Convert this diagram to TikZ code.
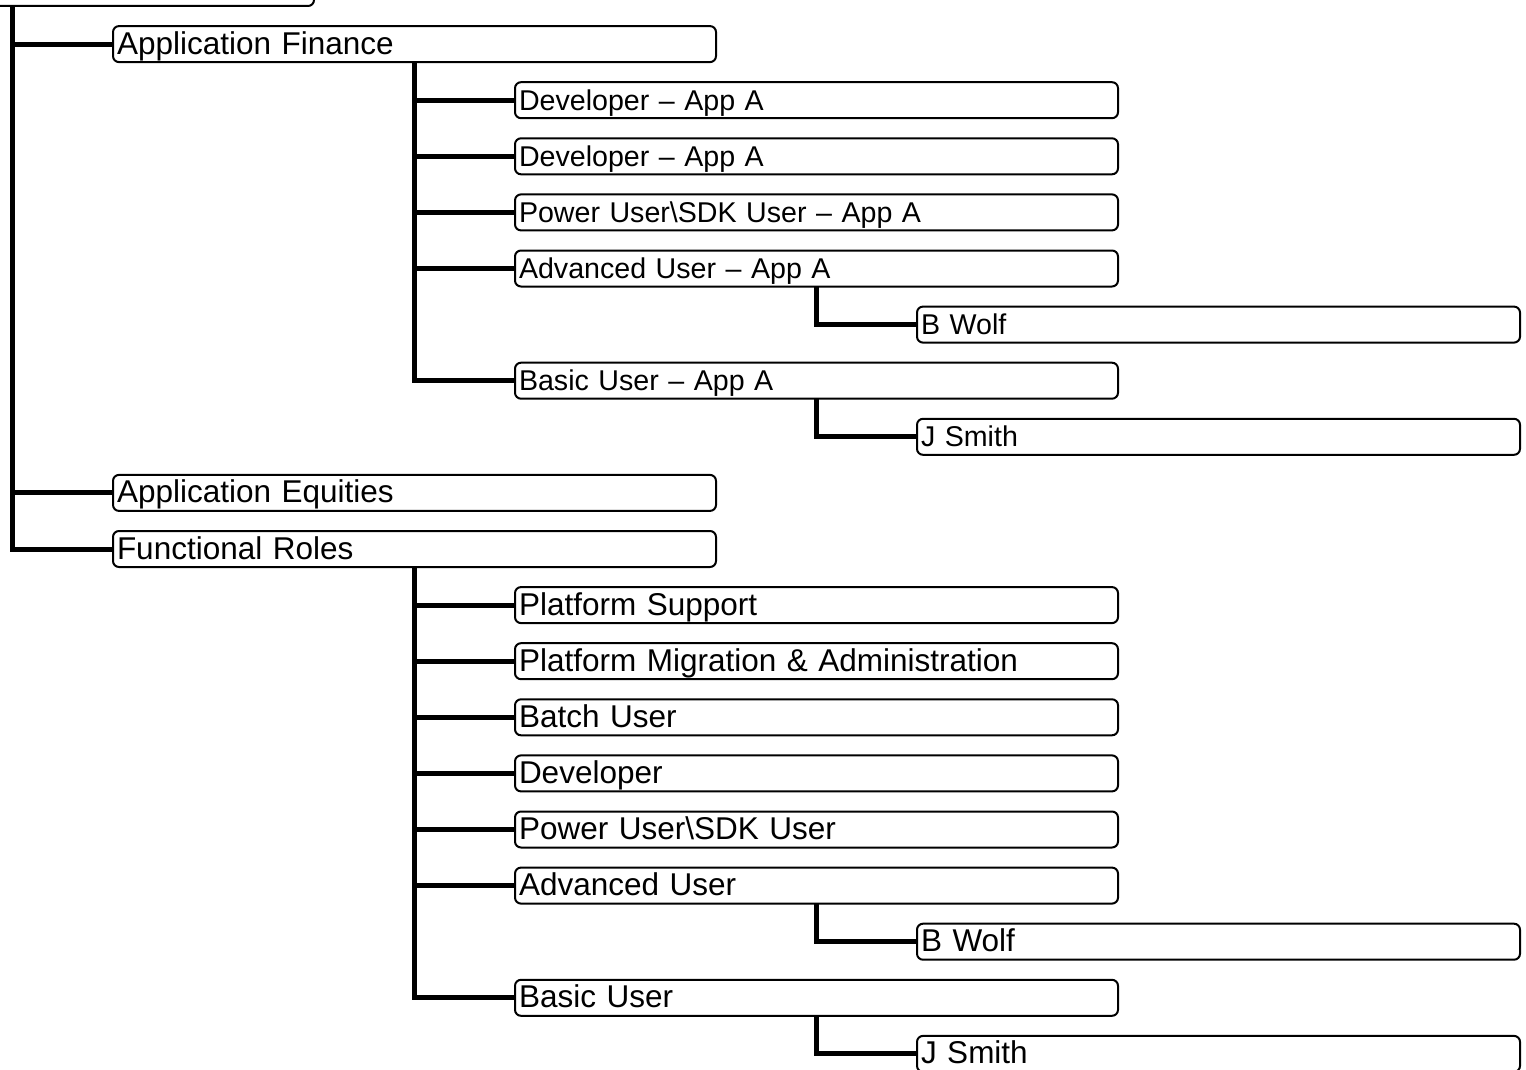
\documentclass[tikz,border=0pt]{standalone}
\usepackage{fontspec}
\setmainfont{Liberation Sans}
\usetikzlibrary{trees}

\begin{document}
\begin{tikzpicture}
    [
      x=0.5pt, y=0.5pt,
      every node/.style = {shape=rectangle, rounded corners=3pt, draw, line width=1pt,
        anchor=west, align=left, text width=297.5pt, inner xsep=2pt, inner ysep=0pt,
        outer sep=0pt, text height=14pt, text depth=4pt,
        font=\fontsize{15.75}{18}\selectfont},
      appA/.style = {font=\fontsize{14.3}{18}\selectfont},
      % children sit relative to the parent's centre
      grow via three points = {one child at (100.5,-56.1) and two children at (100.5,-56.1) and (100.5,-112.2)},
      edge from parent path = {(\tikzparentnode.south) |- (\tikzchildnode.west)},
      edge from parent/.style = {draw, line width=2.5pt}
    ]
    \useasboundingbox (0,0) rectangle (1526,-1070);
    \clip (0,0) rectangle (1526,-1070);

    \node (root) at (-289,12) {}
      child {node (appfin) {Application Finance}
              child {node[appA] (devA1) {Developer – App A}}
              child {node[appA] (devA2) {Developer – App A}}
              child {node[appA] (powerA) {Power User\textbackslash SDK User – App A}}
              child {node[appA] (advA) {Advanced User – App A}
                      child {node[appA] (wolfA) {B Wolf}}
                    }
              child [missing] {}
              child {node[appA] (basicA) {Basic User – App A}
                      child {node[appA] (smithA) {J Smith}}
                    }
            }
      child [missing] {}
      child [missing] {}
      child [missing] {}
      child [missing] {}
      child [missing] {}
      child [missing] {}
      child [missing] {}
      child {node (appeq) {Application Equities}}
      child {node (funcroles) {Functional Roles}
              child {node (platsupport) {Platform Support}}
              child {node (platmig) {Platform Migration \& Administration}}
              child {node (batch) {Batch User}}
              child {node (dev) {Developer}}
              child {node (power) {Power User\textbackslash SDK User}}
              child {node (adv) {Advanced User}
                      child {node (wolf) {B Wolf}}
                    }
              child [missing] {}
              child {node (basic) {Basic User}
                      child {node (smith) {J Smith}}
                    }
            };
  \end{tikzpicture}
\end{document}
